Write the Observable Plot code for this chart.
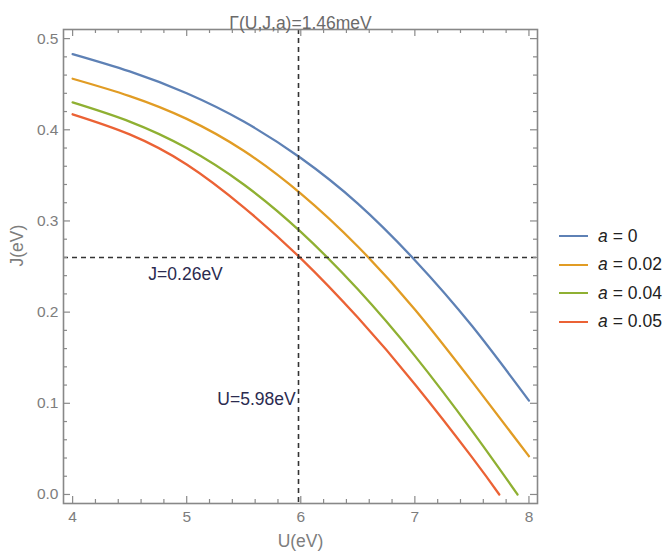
<!DOCTYPE html>
<html>
<head>
<meta charset="utf-8">
<script src="https://cdn.jsdelivr.net/npm/d3@7"></script>
<script src="https://cdn.jsdelivr.net/npm/@observablehq/plot@0.6"></script>
<style>
  body { margin: 0; background: #fff; font-family: "Liberation Sans", Arial, sans-serif; }
  #wrap { position: relative; width: 664px; height: 559px; }
  #wrap svg, #wrap svg text { font-family: "Liberation Sans", Arial, sans-serif !important; }
  #legend { position: absolute; left: 559px; top: 222px; font-size: 17.5px; color: #222; }
  .row { display: flex; align-items: center; height: 28.5px; }
  .sw { width: 29px; height: 2px; margin-right: 10px; }
  .row i { margin-right: 5px; }
</style>
</head>
<body>
<div id="wrap"><div id="legend"></div></div>
<script>
// ---- data ----
const seriesNames = ["a = 0", "a = 0.02", "a = 0.04", "a = 0.05"];
const seriesA = ["0", "0.02", "0.04", "0.05"];
const seriesColors = ["#5E81B5", "#E19C24", "#8FB032", "#EB6235"];
const U_a0   = [4, 4.5, 5.0, 5.5, 6.0, 6.5, 7.0, 7.5, 8.0];
const J_a0   = [0.483, 0.464, 0.440, 0.409, 0.369, 0.319, 0.257, 0.185, 0.103];
const U_a002 = [4, 4.5, 5.0, 5.5, 6.0, 6.5, 7.0, 7.5, 8.0];
const J_a002 = [0.456, 0.437, 0.412, 0.377, 0.330, 0.272, 0.203, 0.124, 0.042];
const U_a004 = [4, 4.5, 5.0, 5.5, 6.0, 6.5, 7.0, 7.5, 7.9];
const J_a004 = [0.430, 0.409, 0.380, 0.340, 0.288, 0.225, 0.152, 0.070, 0.0];
const U_a005 = [4, 4.5, 5.0, 5.5, 6.0, 6.5, 7.0, 7.5, 7.74];
const J_a005 = [0.417, 0.395, 0.362, 0.315, 0.259, 0.194, 0.121, 0.041, 0.0];
const xTicks = [4, 5, 6, 7, 8];
const xMinor = [4.2,4.4,4.6,4.8,5.2,5.4,5.6,5.8,6.2,6.4,6.6,6.8,7.2,7.4,7.6,7.8];
const yTicks = [0, 0.1, 0.2, 0.3, 0.4, 0.5];
const yMinor = [0.02,0.04,0.06,0.08,0.12,0.14,0.16,0.18,0.22,0.24,0.26,0.28,0.32,0.34,0.36,0.38,0.42,0.44,0.46,0.48];
const Uref = 5.98, Jref = 0.26;
const titleText = "Γ(U,J,a)=1.46meV";
const xLabel = "U(eV)", yLabel = "J(eV)";

const Us = [U_a0, U_a002, U_a004, U_a005];
const Js = [J_a0, J_a002, J_a004, J_a005];
const rows = [];
seriesNames.forEach((n, i) => Us[i].forEach((u, k) => rows.push({series: n, U: u, J: Js[i][k]})));

const W = 664, H = 559, mt = 29, mr = 127, mb = 56, ml = 63;
const ph = H - mt - mb, pw = W - ml - mr;
const gray = "#8a8a8a", labelColor = "#7d7d7d";

const plot = Plot.plot({
  width: W, height: H,
  marginTop: mt, marginRight: mr, marginBottom: mb, marginLeft: ml,
  style: {background: "#fff", overflow: "visible"},
  x: {domain: [3.92, 8.075]},
  y: {domain: [-0.0099, 0.510]},
  color: {domain: seriesNames, range: seriesColors},
  marks: [
    Plot.line(rows, {x: "U", y: "J", z: "series", stroke: "series", strokeWidth: 2.3, curve: "natural"}),
    Plot.ruleX([Uref], {stroke: "#333", strokeWidth: 1.6, strokeDasharray: "5,4"}),
    Plot.ruleY([Jref], {stroke: "#333", strokeWidth: 1.6, strokeDasharray: "5,4"}),
    Plot.text(["J=" + Jref + "eV"], {x: 4.99, y: 0.241, text: d => d, fontSize: 17.5, fill: "#2b2b4f"}),
    Plot.text(["U=" + Uref + "eV"], {x: 5.955, y: 0.104, text: d => d, fontSize: 17.5, fill: "#2b2b4f", textAnchor: "end"}),
    // frame ticks (inward), all four sides
    Plot.tickX(xTicks, {x: d => d, insetTop: ph - 7, stroke: gray, strokeWidth: 1.2}),
    Plot.tickX(xMinor, {x: d => d, insetTop: ph - 4, stroke: gray, strokeWidth: 1.2}),
    Plot.tickX(xTicks, {x: d => d, insetBottom: ph - 7, stroke: gray, strokeWidth: 1.2}),
    Plot.tickX(xMinor, {x: d => d, insetBottom: ph - 4, stroke: gray, strokeWidth: 1.2}),
    Plot.tickY(yTicks, {y: d => d, insetRight: pw - 7, stroke: gray, strokeWidth: 1.2}),
    Plot.tickY(yMinor, {y: d => d, insetRight: pw - 4, stroke: gray, strokeWidth: 1.2}),
    Plot.tickY(yTicks, {y: d => d, insetLeft: pw - 7, stroke: gray, strokeWidth: 1.2}),
    Plot.tickY(yMinor, {y: d => d, insetLeft: pw - 4, stroke: gray, strokeWidth: 1.2}),
    Plot.axisX(xTicks, {tickSize: 0, tickPadding: 7, fontSize: 15.5, fill: labelColor, label: null, tickFormat: d3.format("d")}),
    Plot.axisY(yTicks, {tickSize: 0, tickPadding: 5, fontSize: 15.5, fill: labelColor, label: null, tickFormat: d3.format(".1f")}),
    Plot.frame({stroke: "#888", strokeWidth: 1.6}),
    Plot.text([titleText], {frameAnchor: "top", dy: -13, fontSize: 17.5, fill: "#6a6a6a", text: d => d}),
    Plot.text([xLabel], {frameAnchor: "bottom", dy: 43, fontSize: 17.5, fill: labelColor, text: d => d}),
    Plot.text([yLabel], {frameAnchor: "left", dx: -46.5, rotate: -90, fontSize: 17.5, fill: labelColor, text: d => d})
  ]
});
document.getElementById("wrap").prepend(plot);

const leg = d3.select("#legend");
seriesNames.forEach((n, i) => {
  const r = leg.append("div").attr("class", "row");
  r.append("div").attr("class", "sw").style("background", seriesColors[i]);
  r.append("i").text("a");
  r.append("span").text("= " + seriesA[i]);
});
</script>
</body>
</html>
